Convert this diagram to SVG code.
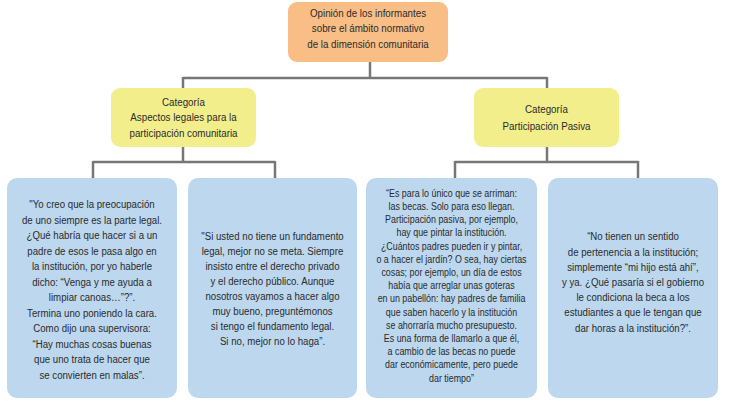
<svg xmlns="http://www.w3.org/2000/svg" width="732" height="404" viewBox="0 0 732 404">
<style>
text{font-family:"Liberation Sans",Arial,sans-serif;fill:#2b2b2b;text-anchor:middle;dominant-baseline:central}
.t{font-size:11.5px}
.s{font-size:10.6px}
.top{fill:#F9BE86}
.cat{fill:#F2EE8C}
.q{fill:#BCD7EE}
.ln{stroke:#777;stroke-width:2.5;fill:none}
</style>
<rect width="732" height="404" fill="#fff"/>
<g id="connectors">
<path class="ln" d="M370 62V78M183 78H547M183 77V88M547 77V88"/>
<path class="ln" d="M183 147V162M93 162H275M93 161V178M275 161V178"/>
<path class="ln" d="M547 147V162M455 162H638M455 161V178M638 161V178"/>
</g>
<g id="root">
<rect class="top" x="288" y="2" width="160" height="60" rx="9"/>
<g class="t" transform="translate(368,0) scale(0.85,1)">
<text x="0" y="13">Opinión de los informantes</text>
<text x="0" y="28">sobre el ámbito normativo</text>
<text x="0" y="44">de la dimensión comunitaria</text>
</g>
</g>
<g id="cat1">
<rect class="cat" x="111" y="88" width="145" height="59" rx="9"/>
<g class="t" transform="translate(183.5,0) scale(0.85,1)">
<text x="0" y="102">Categoría</text>
<text x="0" y="117">Aspectos legales para la</text>
<text x="0" y="133">participación comunitaria</text>
</g>
</g>
<g id="cat2">
<rect class="cat" x="474" y="88" width="145" height="59" rx="9"/>
<g class="t" transform="translate(546.5,0) scale(0.85,1)">
<text x="0" y="109">Categoría</text>
<text x="0" y="126">Participación Pasiva</text>
</g>
</g>
<g id="q1">
<rect class="q" x="7" y="178" width="170" height="220" rx="10"/>
<g class="t" transform="translate(92,0) scale(0.84,1)">
<text x="0" y="204">"Yo creo que la preocupación</text>
<text x="0" y="219.5">de uno siempre es la parte legal.</text>
<text x="0" y="235">¿Qué habría que hacer si a un</text>
<text x="0" y="250.5">padre de esos le pasa algo en</text>
<text x="0" y="266">la institución, por yo haberle</text>
<text x="0" y="281.5">dicho:  “Venga y me ayuda a</text>
<text x="0" y="297">limpiar canoas…”?”.</text>
<text x="0" y="312.5">Termina uno poniendo la cara.</text>
<text x="0" y="328">Como dijo una supervisora:</text>
<text x="0" y="343.5">“Hay muchas cosas buenas</text>
<text x="0" y="359">que uno trata de hacer que</text>
<text x="0" y="374.5">se convierten en malas”.</text>
</g>
</g>
<g id="q2">
<rect class="q" x="188" y="178" width="169" height="220" rx="10"/>
<g class="t" transform="translate(272.5,0) scale(0.84,1)">
<text x="0" y="236">"Si usted no tiene un fundamento</text>
<text x="0" y="251">legal, mejor no se meta. Siempre</text>
<text x="0" y="266">insisto entre el derecho privado</text>
<text x="0" y="281">y el derecho público. Aunque</text>
<text x="0" y="296">nosotros vayamos a hacer algo</text>
<text x="0" y="311">muy bueno, preguntémonos</text>
<text x="0" y="326">si tengo el fundamento legal.</text>
<text x="0" y="341">Si no, mejor no lo haga”.</text>
</g>
</g>
<g id="q3">
<rect class="q" x="366" y="178" width="171" height="220" rx="10"/>
<g class="s" transform="translate(451.5,0) scale(0.84,1)">
<text x="0" y="193">“Es para lo único que se arriman:</text>
<text x="0" y="206.2">las becas. Solo para eso llegan.</text>
<text x="0" y="219.4">Participación pasiva, por ejemplo,</text>
<text x="0" y="232.6">hay que pintar la institución.</text>
<text x="0" y="245.8">¿Cuántos padres pueden ir y pintar,</text>
<text x="0" y="259">o a hacer el jardín? O sea, hay ciertas</text>
<text x="0" y="272.2">cosas; por ejemplo, un día de estos</text>
<text x="0" y="285.4">había que arreglar unas goteras</text>
<text x="0" y="298.6">en un pabellón: hay padres de familia</text>
<text x="0" y="311.8">que saben hacerlo y la institución</text>
<text x="0" y="325">se ahorraría mucho presupuesto.</text>
<text x="0" y="338.2">Es una forma de llamarlo a que él,</text>
<text x="0" y="351.4">a cambio de las becas no puede</text>
<text x="0" y="364.6">dar económicamente, pero puede</text>
<text x="0" y="377.8">dar tiempo”</text>
</g>
</g>
<g id="q4">
<rect class="q" x="548" y="178" width="170" height="220" rx="10"/>
<g class="t" transform="translate(633,0) scale(0.84,1)">
<text x="0" y="236">“No tienen un sentido</text>
<text x="0" y="251.2">de pertenencia a la institución;</text>
<text x="0" y="266.4">simplemente “mi hijo está ahí”,</text>
<text x="0" y="281.6">y ya. ¿Qué pasaría si el gobierno</text>
<text x="0" y="296.8">le condiciona la beca a los</text>
<text x="0" y="312">estudiantes a que le tengan que</text>
<text x="0" y="327.2">dar horas a la institución?”.</text>
</g>
</g>
</svg>
